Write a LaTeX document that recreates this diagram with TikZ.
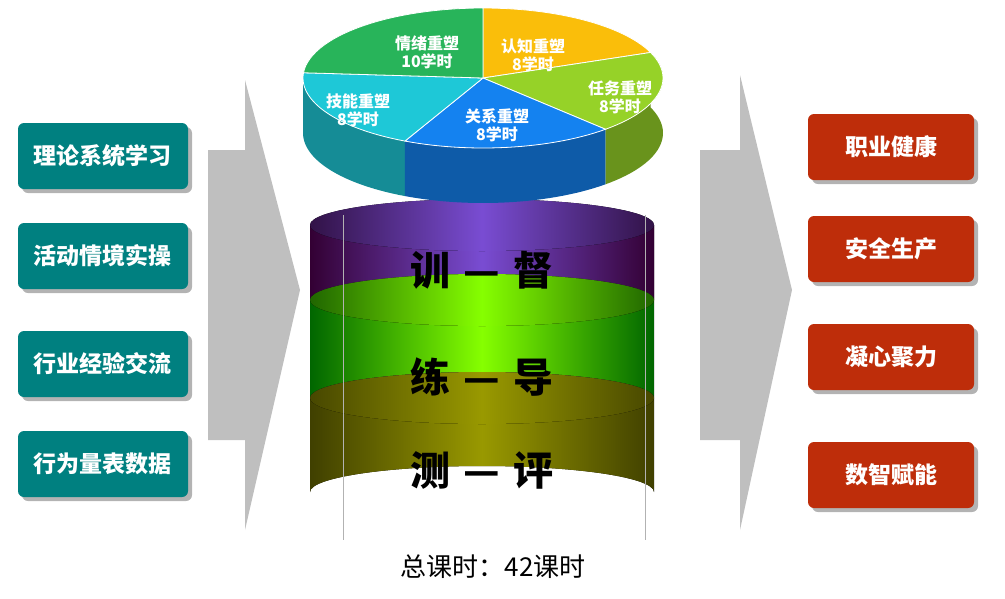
\documentclass[tikz,border=0pt]{standalone}
\usepackage{fontspec}
\setmainfont{Noto Sans CJK SC}
\usetikzlibrary{shadows}
\definecolor{tealbox}{RGB}{0,128,128}
\definecolor{redbox}{RGB}{190,45,10}
\definecolor{piegreen}{RGB}{40,180,90}
\definecolor{pieyellow}{RGB}{250,190,10}
\definecolor{pielime}{RGB}{150,210,40}
\definecolor{pieblue}{RGB}{20,130,240}
\definecolor{piecyan}{RGB}{30,200,215}
\tikzset{
  inbox/.style={rounded corners=6pt, fill=tealbox, text=white, font=\fontsize{23}{26}\selectfont\bfseries, minimum width=170pt, minimum height=66pt, drop shadow={opacity=.6,shadow xshift=4pt,shadow yshift=-4pt}},
  outbox/.style={inbox, fill=redbox, minimum width=166pt},
  bigarrow/.style={fill=black!25, draw=none},
  pielabel/.style={text=white, font=\fontsize{16}{18}\selectfont\bfseries, align=center},
  disclabel/.style={font=\fontsize{40}{44}\selectfont\bfseries}
}
% sector top and side
\newcommand{\pieslice}[3]{%
  \fill[#3!70!black] plot[domain=#1:#2,samples=30] ({483+180*cos(\x)},{78-70*sin(\x)})
    -- plot[domain=#2:#1,samples=30] ({483+180*cos(\x)},{133-70*sin(\x)}) -- cycle;}
\newcommand{\pietop}[3]{%
  \fill[#3, draw=white, thick] (483,78) -- plot[domain=#1:#2,samples=30] ({483+180*cos(\x)},{78-70*sin(\x)}) -- cycle;}
% disc: top y, bottom y, colors
\newcommand{\disc}[4]{%
  \fill[left color=#3, right color=#3, middle color=#4] (310,#1) -- (310,#2) arc[start angle=180,end angle=360,x radius=172,y radius=26] -- (654,#1) -- cycle;
  \fill[left color=#4!60!#3, right color=#4!60!#3, middle color=#4] (482,#1) ellipse[x radius=172,y radius=26];}
\begin{document}
\begin{tikzpicture}[x=1pt,y=-1pt]
\useasboundingbox (0,0) rectangle (1005,598);
% arrows
\fill[bigarrow] (208,150) -- (245,150) -- (245,80) -- (300,290) -- (245,530) -- (245,440) -- (208,440) -- cycle;
\fill[bigarrow] (700,150) -- (740,150) -- (740,75) -- (792,290) -- (740,530) -- (740,440) -- (700,440) -- cycle;
% inputs
\node[inbox] (theory) at (103,156) {理论系统学习};
\node[inbox] (activity) at (103,256) {活动情境实操};
\node[inbox] (industry) at (103,364) {行业经验交流};
\node[inbox] (scale) at (103,464) {行为量表数据};
% outputs
\node[outbox] (health) at (891,147) {职业健康};
\node[outbox] (safety) at (891,249) {安全生产};
\node[outbox] (unity) at (891,357) {凝心聚力};
\node[outbox] (digital) at (891,475) {数智赋能};
% discs
\disc{225}{300}{violet!40!black}{violet!50!blue!70!white}
\disc{300}{398}{green!40!black}{lime!70!green}
\disc{398}{492}{olive!50!black}{olive!80!yellow}
\draw[black!30] (343,215) -- (343,540) (645,215) -- (645,540);
\node[disclabel] (guide) at (482,270) {训\,\,—\,\,督};
\node[disclabel] (train) at (482,377) {练\,\,—\,\,导};
\node[disclabel] (test) at (482,470) {测\,\,—\,\,评};
% pie
\pieslice{180}{244.3}{piecyan}
\pieslice{244.3}{312.9}{pieblue}
\pieslice{312.9}{381.4}{pielime}
\pietop{90}{21.4}{pieyellow}
\pietop{21.4}{-47.1}{pielime}
\pietop{-47.1}{-115.7}{pieblue}
\pietop{-115.7}{-184.3}{piecyan}
\pietop{-184.3}{-270}{piegreen}
\node[pielabel] (mood) at (427,52) {情绪重塑\\10学时};
\node[pielabel] (cognition) at (533,55) {认知重塑\\8学时};
\node[pielabel] (task) at (620,97) {任务重塑\\8学时};
\node[pielabel] (relation) at (497,125) {关系重塑\\8学时};
\node[pielabel] (skill) at (358,110) {技能重塑\\8学时};
\node[font=\fontsize{26}{30}\selectfont] (total) at (493,567) {总课时：42课时};
\end{tikzpicture}
\end{document}
